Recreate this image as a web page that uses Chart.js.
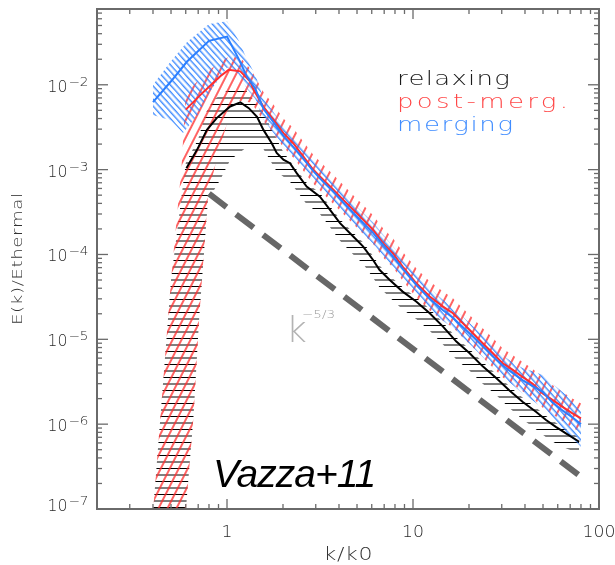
<!DOCTYPE html>
<html><head><meta charset="utf-8">
<script src="https://cdn.jsdelivr.net/npm/chart.js@4.4.1/dist/chart.umd.min.js"></script>
<style>html,body{margin:0;padding:0;background:#fff;}#wrap{width:615px;height:565px;}</style>
</head><body><div id="wrap"><canvas id="c" width="615" height="565"></canvas></div>
<script>
// ---------- data ----------
const relaxingK = [0.605,0.69,0.78,0.88,1.04,1.18,1.31,1.45,1.57,1.74,1.85,2.01,2.18,2.37,2.68,3.16,3.58,4.05,4.77,5.4,6.1,6.6,7.5,8.8,10.4,12.3,14.5,17.1,20.1,23.7,28,33,38.8,45.8,51.9,58.6,66.4,78.2];
const relaxingE = [1.04e-3,1.71e-3,2.94e-3,4.05e-3,5.55e-3,6.2e-3,5.3e-3,4.2e-3,2.94e-3,2.05e-3,1.57e-3,1.31e-3,1.19e-3,9.1e-4,6.3e-4,4.8e-4,3.36e-4,2.34e-4,1.63e-4,1.24e-4,8.6e-5,6.6e-5,5.0e-5,3.65e-5,2.79e-5,2.03e-5,1.41e-5,9.4e-6,6.9e-6,4.8e-6,3.5e-6,2.5e-6,1.84e-6,1.4e-6,1.12e-6,9.3e-7,7.8e-7,6.2e-7];
const relaxingUpK = [0.40,0.50,0.60,0.70,0.77,0.85,1.00,1.12,1.25,1.38,1.57,1.74,2.01,2.37,2.68,3.16,3.58,4.05,4.77,5.4,6.1,6.6,7.5,8.8,10.4,12.3,14.5,17.1,20.1,23.7,28,33,38.8,45.8,51.9,58.6,66.4,78.2];
const relaxingUpE = [9e-8,5e-5,1.2e-3,2.3e-3,4.7e-3,6.7e-3,8.5e-3,9.3e-3,8.8e-3,6.7e-3,4.7e-3,3.0e-3,1.6e-3,1.0e-3,7.0e-4,5.3e-4,3.7e-4,2.6e-4,1.8e-4,1.38e-4,9.6e-5,7.4e-5,5.6e-5,4.1e-5,3.1e-5,2.27e-5,1.58e-5,1.05e-5,7.7e-6,5.4e-6,3.9e-6,2.8e-6,2.06e-6,1.57e-6,1.25e-6,1.04e-6,8.7e-7,6.9e-7];
const relaxingLoK = [0.40,0.59,0.66,0.71,0.79,0.92,1.04,1.30,1.57,1.85,2.18,2.68,3.16,3.58,4.05,4.77,5.4,6.1,6.6,7.5,8.8,10.4,12.3,14.5,17.1,20.1,23.7,28,33,38.8,45.8,51.9,58.6,66.4,78.2];
const relaxingLoE = [1e-9,6e-8,1.2e-6,1.9e-5,4.4e-4,7.6e-4,1.3e-3,1.9e-3,1.75e-3,9.5e-4,7.2e-4,3.9e-4,3.0e-4,2.1e-4,1.45e-4,1.0e-4,7.7e-5,5.3e-5,4.1e-5,3.1e-5,2.25e-5,1.73e-5,1.26e-5,8.7e-6,5.8e-6,4.3e-6,3.0e-6,2.2e-6,1.55e-6,1.14e-6,8.7e-7,7.0e-7,5.9e-7,5.2e-7,4.5e-7];

const postK = [0.60,0.75,0.92,1.02,1.18,1.33,1.39,1.57,1.78,2.01,2.27,2.57,2.91,3.29,3.73,4.22,4.77,5.4,6.1,6.9,7.8,8.8,10.4,12.3,14.5,16.4,18.5,21,23.7,26.8,30.4,34.4,38.8,44,49.8,56.2,63.7,72,80];
const postE = [5.1e-3,8.3e-3,1.26e-2,1.5e-2,1.44e-2,1.1e-2,8.7e-3,5.5e-3,3.86e-3,2.69e-3,2.05e-3,1.43e-3,9.95e-4,7.6e-4,5.8e-4,4.4e-4,3.36e-4,2.56e-4,1.95e-4,1.36e-4,1.03e-4,7.2e-5,4.6e-5,3.2e-5,2.43e-5,2.03e-5,1.55e-5,1.18e-5,9e-6,6.9e-6,5.2e-6,4.36e-6,3.6e-6,3.0e-6,2.3e-6,1.93e-6,1.6e-6,1.34e-6,1.17e-6];
const postUpK = [0.40,0.50,0.57,0.60,0.75,0.92,1.05,1.20,1.35,1.57,1.78,2.01,2.27,2.57,2.91,3.29,3.73,4.22,4.77,5.4,6.1,6.9,7.8,8.8,10.4,12.3,14.5,16.4,18.5,21,23.7,26.8,30.4,34.4,38.8,44,49.8,56.2,63.7,72,80];
const postUpE = [9e-8,5e-5,1.1e-3,8.0e-3,1.3e-2,1.9e-2,2.2e-2,2.0e-2,1.5e-2,8.2e-3,5.8e-3,4.0e-3,3.1e-3,2.15e-3,1.5e-3,1.14e-3,8.7e-4,6.6e-4,5.0e-4,3.84e-4,2.9e-4,2.04e-4,1.55e-4,1.08e-4,6.9e-5,4.8e-5,3.65e-5,3.05e-5,2.33e-5,1.77e-5,1.35e-5,1.04e-5,7.8e-6,6.5e-6,5.4e-6,4.5e-6,3.45e-6,2.9e-6,2.4e-6,2.0e-6,1.75e-6];
const postLoK = [0.40,0.59,0.66,0.71,0.79,0.90,1.00,1.15,1.35,1.57,1.78,2.01,2.27,2.57,2.91,3.29,3.73,4.22,4.77,5.4,6.1,6.9,7.8,8.8,10.4,12.3,14.5,16.4,18.5,21,23.7,26.8,30.4,34.4,38.8,44,49.8,56.2,63.7,72,80];
const postLoE = [1e-9,6e-8,1.2e-6,1.9e-5,5e-4,1.6e-3,3.5e-3,6.5e-3,6.2e-3,3.74e-3,2.62e-3,1.83e-3,1.39e-3,9.7e-4,6.8e-4,5.2e-4,3.94e-4,3.0e-4,2.28e-4,1.74e-4,1.33e-4,9.2e-5,7.0e-5,4.9e-5,3.13e-5,2.18e-5,1.65e-5,1.38e-5,1.05e-5,8.0e-6,6.1e-6,4.7e-6,3.54e-6,2.96e-6,2.45e-6,2.04e-6,1.56e-6,1.31e-6,1.09e-6,9.1e-7,8.0e-7];

const mergingK = [0.40,0.50,0.61,0.80,1.00,1.15,1.28,1.42,1.57,1.78,2.01,2.27,2.57,2.91,3.29,3.73,4.22,4.77,5.4,6.1,6.9,7.8,8.8,10.4,12.3,14.5,16.4,18.5,21,23.7,26.8,30.4,34.4,38.8,44,49.8,56.2,63.7,72,80];
const mergingE = [6.25e-3,1.1e-2,1.88e-2,3.3e-2,3.7e-2,2.06e-2,1.25e-2,9.0e-3,5.2e-3,3.6e-3,2.5e-3,1.85e-3,1.35e-3,9.6e-4,7.2e-4,5.5e-4,4.1e-4,3.1e-4,2.35e-4,1.8e-4,1.3e-4,9.5e-5,6.8e-5,4.4e-5,3.0e-5,2.2e-5,1.8e-5,1.4e-5,1.08e-5,8.3e-6,6.3e-6,4.9e-6,4.0e-6,3.3e-6,2.8e-6,2.4e-6,1.8e-6,1.45e-6,1.2e-6,1.0e-6];
const mergingUpK = [0.40,0.50,0.61,0.80,1.00,1.15,1.28,1.42,1.57,1.78,2.01,2.27,2.57,2.91,3.29,3.73,4.22,4.77,5.4,6.1,6.9,7.8,8.8,10.4,12.3,14.5,16.4,18.5,21,23.7,26.8,30.4,34.4,38.8,44,49.8,56.2,63.7,72,80];
const mergingUpE = [1.0e-2,1.9e-2,3.2e-2,5.2e-2,5.6e-2,3.4e-2,2.0e-2,1.3e-2,6.9e-3,4.75e-3,3.3e-3,2.44e-3,1.78e-3,1.27e-3,9.5e-4,7.3e-4,5.4e-4,4.1e-4,3.1e-4,2.38e-4,1.72e-4,1.25e-4,9.0e-5,5.8e-5,4.0e-5,2.9e-5,2.38e-5,1.85e-5,1.43e-5,1.1e-5,8.3e-6,6.5e-6,5.3e-6,4.6e-6,4.2e-6,3.8e-6,3.0e-6,2.4e-6,1.9e-6,1.5e-6];
const mergingLoK = [0.40,0.50,0.58,0.70,0.80,1.00,1.15,1.28,1.42,1.57,1.78,2.01,2.27,2.57,2.91,3.29,3.73,4.22,4.77,5.4,6.1,6.9,7.8,8.8,10.4,12.3,14.5,16.4,18.5,21,23.7,26.8,30.4,34.4,38.8,44,49.8,56.2,63.7,72,80];
const mergingLoE = [4.4e-3,3.8e-3,2.7e-3,4.5e-3,8.0e-3,1.6e-2,1.35e-2,9.0e-3,6.8e-3,3.9e-3,2.7e-3,1.88e-3,1.39e-3,1.01e-3,7.2e-4,5.4e-4,4.1e-4,3.1e-4,2.3e-4,1.76e-4,1.35e-4,9.8e-5,7.1e-5,5.1e-5,3.3e-5,2.25e-5,1.65e-5,1.35e-5,1.05e-5,8.1e-6,6.2e-6,4.7e-6,3.6e-6,2.9e-6,2.3e-6,1.9e-6,1.55e-6,1.15e-6,8.8e-7,6.8e-7,5.4e-7];

const slopeK = [0.8, 80];
const slopeE = [5.2e-4, 2.4e-7];

const seriesNames = ['relaxing', 'post-merg.', 'merging'];
const xTickValues = [1, 10, 100];
const xTickLabels = ['1', '10', '100'];
const yTickValues = [1e-7, 1e-6, 1e-5, 1e-4, 1e-3, 1e-2];
const yTickBase = '10';
const yTickExps = ['\u22127', '\u22126', '\u22125', '\u22124', '\u22123', '\u22122'];
const xTitle = 'k/k0';
const yTitle = 'E(k)/Ethermal';
const slopeLabel = 'k';
const slopeExp = '\u22125/3';
const credit = 'Vazza+11';

// ---------- style ----------
const COL_RELAX = '#000000', COL_POST = '#ff2e2e', COL_MERG = '#2b7fff';
const LEG_COLS = ['#1a1a1a', '#ff4848', '#3f8cff'];
const THIN = "'DejaVu Sans', sans-serif";

const canvas = document.getElementById('c');
const ctx0 = canvas.getContext('2d');

function hatch(color, tileH, ys, lw, angle) {
  const c = document.createElement('canvas');
  c.width = 24; c.height = tileH;
  const g = c.getContext('2d');
  g.strokeStyle = color; g.lineWidth = lw;
  ys.forEach(y => { g.beginPath(); g.moveTo(0, y); g.lineTo(24, y); g.stroke(); });
  const p = ctx0.createPattern(c, 'repeat');
  if (angle) p.setTransform(new DOMMatrix().rotateSelf(angle));
  return p;
}
const blackHatch = hatch('#000', 13, [0.5, 7], 1, 0);
const redHatch = hatch(COL_POST, 8, [4], 1.5, -63);
const blueHatch = hatch(COL_MERG, 9, [2.25, 6.75], 1.3, 48);

const pts = (ks, es) => ks.map((k, i) => ({x: k, y: es[i]}));
const base = {pointRadius: 0, pointHoverRadius: 0, tension: 0, fill: false, borderWidth: 0, borderColor: 'rgba(0,0,0,0)', backgroundColor: 'rgba(0,0,0,0)'};
const mk = (data, extra) => Object.assign({}, base, {data}, extra);

const datasets = [
  mk(pts(relaxingUpK, relaxingUpE), {fill: 1, backgroundColor: blackHatch, order: 12}),
  mk(pts(relaxingLoK, relaxingLoE), {order: 12}),
  mk(pts(postUpK, postUpE), {fill: 3, backgroundColor: redHatch, order: 11}),
  mk(pts(postLoK, postLoE), {order: 11}),
  mk(pts(mergingUpK, mergingUpE), {fill: 5, backgroundColor: blueHatch, order: 10}),
  mk(pts(mergingLoK, mergingLoE), {order: 10}),
  mk(pts(slopeK, slopeE), {borderColor: '#676767', borderWidth: 6, borderDash: [22, 12], borderCapStyle: 'butt', order: 5}),
  mk(pts(relaxingK, relaxingE), {label: seriesNames[0], borderColor: COL_RELAX, borderWidth: 2, order: 3}),
  mk(pts(postK, postE), {label: seriesNames[1], borderColor: COL_POST, borderWidth: 2, order: 2}),
  mk(pts(mergingK, mergingE), {label: seriesNames[2], borderColor: COL_MERG, borderWidth: 2, order: 1})
];

// text fitted to a target width: widen glyphs (up to maxS) then add spacing
function fitText(ctx, text, x, y, targetW, font, color, align, maxS) {
  ctx.save();
  ctx.font = font; ctx.fillStyle = color; ctx.letterSpacing = '0px';
  ctx.textAlign = 'left';
  const w0 = ctx.measureText(text).width;
  const n = [...text].length;
  const sx = Math.max(0.6, Math.min(maxS || 1.3, targetW / w0));
  const ls = n > 1 ? (targetW / sx - w0) / (n - 1) : 0;
  let xs = x;
  if (align === 'center') xs = x - targetW / 2;
  else if (align === 'right') xs = x - targetW;
  ctx.translate(xs, y);
  ctx.scale(sx, 1);
  ctx.letterSpacing = ls.toFixed(2) + 'px';
  ctx.fillText(text, 0, 0);
  ctx.restore();
}

const idlAxes = {
  id: 'idlAxes',
  afterDraw(chart) {
    const {ctx, chartArea: a, scales: {x, y}} = chart;
    ctx.save();
    ctx.strokeStyle = '#6a6a6a';
    ctx.lineWidth = 2;
    ctx.strokeRect(a.left, a.top, a.right - a.left, a.bottom - a.top);
    ctx.lineWidth = 1.3;
    const seg = (x1, y1, x2, y2) => { ctx.beginPath(); ctx.moveTo(x1, y1); ctx.lineTo(x2, y2); ctx.stroke(); };
    for (let d = -1; d <= 2; d++) for (let m = 1; m <= 9; m++) {
      const v = m * Math.pow(10, d);
      if (v <= x.min * 1.001 || v >= x.max * 0.999) continue;
      const px = x.getPixelForValue(v);
      const len = m === 1 ? 10 : 5;
      seg(px, a.bottom, px, a.bottom - len);
      seg(px, a.top, px, a.top + len);
    }
    for (let d = -8; d <= -1; d++) for (let m = 1; m <= 9; m++) {
      const v = m * Math.pow(10, d);
      if (v <= y.min * 1.001 || v >= y.max * 0.999) continue;
      const py = y.getPixelForValue(v);
      const len = m === 1 ? 11 : 5;
      seg(a.left, py, a.left + len, py);
      seg(a.right, py, a.right - len, py);
    }
    // tick labels
    ctx.textBaseline = 'alphabetic';
    xTickValues.forEach((v, i) => {
      const px = x.getPixelForValue(v);
      const w = 11 * xTickLabels[i].length;
      fitText(ctx, xTickLabels[i], px, a.bottom + 28, w, '200 16px ' + THIN, '#2a2a2a', 'center', 1.1);
    });
    yTickValues.forEach((v, i) => {
      const py = y.getPixelForValue(v);
      const bl = Math.min(py + 7, a.bottom + 2);
      fitText(ctx, yTickBase, 67.5, bl, 20, '200 16px ' + THIN, '#2a2a2a', 'right', 1.1);
      fitText(ctx, yTickExps[i], 68.5, bl - 6, 20, '200 12px ' + THIN, '#2a2a2a', 'left', 1.2);
    });
    // axis titles
    fitText(ctx, xTitle, (a.left + a.right) / 2, 560, 49, '200 17px ' + THIN, '#333', 'center', 1.3);
    ctx.save();
    ctx.translate(21.5, 259);
    ctx.rotate(-Math.PI / 2);
    fitText(ctx, yTitle, 0, 0, 132, '200 14px ' + THIN, '#333', 'center', 1.3);
    ctx.restore();
    // legend text
    fitText(ctx, seriesNames[0], 397, 85, 113, '200 20px ' + THIN, LEG_COLS[0], 'left', 1.3);
    fitText(ctx, seriesNames[1], 397, 108, 171, '200 20px ' + THIN, LEG_COLS[1], 'left', 1.3);
    fitText(ctx, seriesNames[2], 397, 131, 116, '200 20px ' + THIN, LEG_COLS[2], 'left', 1.3);
    // slope label
    ctx.font = '200 36px ' + THIN; ctx.fillStyle = '#b3b3b3'; ctx.textAlign = 'left';
    ctx.fillText(slopeLabel, 286, 342);
    fitText(ctx, slopeExp, 302, 318, 33, '200 11px ' + THIN, '#9a9a9a', 'left', 1.3);
    // credit
    ctx.font = "italic 39px 'Liberation Sans', Arial, sans-serif";
    ctx.fillStyle = '#000';
    ctx.letterSpacing = '-1px';
    ctx.textAlign = 'left';
    ctx.fillText(credit, 213, 487);
    ctx.letterSpacing = '0px';
    ctx.restore();
  }
};

new Chart(canvas, {
  type: 'line',
  data: {datasets},
  options: {
    responsive: false,
    devicePixelRatio: 1,
    animation: false,
    layout: {padding: {left: 97, top: 9, right: 16, bottom: 56}},
    scales: {
      x: {type: 'logarithmic', min: 0.2, max: 100, display: false},
      y: {type: 'logarithmic', min: 1e-7, max: 0.0782, display: false}
    },
    plugins: {legend: {display: false}, tooltip: {enabled: false}},
    events: []
  },
  plugins: [idlAxes]
});
</script>
</body></html>
